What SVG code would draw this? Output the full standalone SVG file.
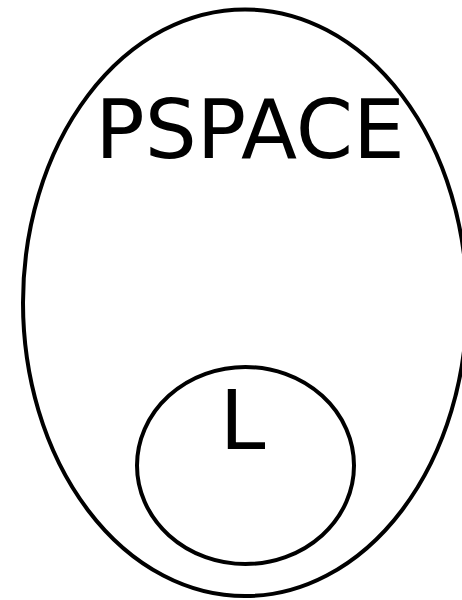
<svg xmlns="http://www.w3.org/2000/svg" width="462" height="600" viewBox="0 0 462 600">
<style>
.sh{fill:none;stroke:#000;stroke-width:4}
.t{font-family:"DejaVu Sans",sans-serif;font-size:82px;fill:#000;text-anchor:middle}
</style>
<rect width="462" height="600" fill="#fff"/>
<g id="pspace">
<ellipse class="sh" cx="245" cy="302.8" rx="222" ry="293.3"/>
<text class="t" x="250" y="158.3">PSPACE</text>
</g>
<g id="l">
<ellipse class="sh" cx="245.5" cy="465.5" rx="108.5" ry="98.5"/>
<text class="t" x="242.5" y="449">L</text>
</g>
<g id="connectors"/>
</svg>
